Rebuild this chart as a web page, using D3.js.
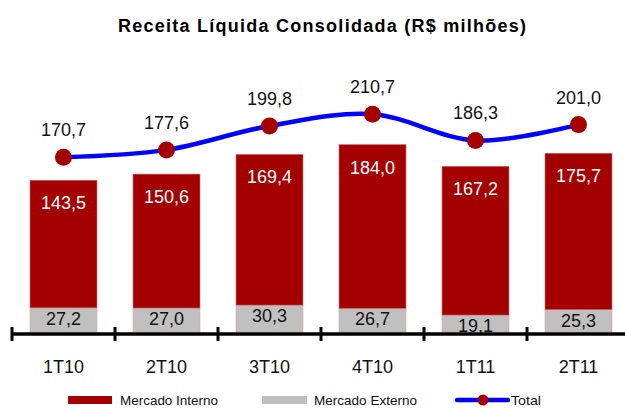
<!DOCTYPE html>
<html>
<head>
<meta charset="utf-8">
<script src="https://cdn.jsdelivr.net/npm/d3@7"></script>
<style>
  body { margin: 0; background: #fff; }
  svg { display: block; font-family: "Liberation Sans", Arial, sans-serif; }
</style>
</head>
<body>
<svg id="chart"></svg>
<script>
let categories = ["1T10", "2T10", "3T10", "4T10", "1T11", "2T11"];
let interno = [143.5, 150.6, 169.4, 184.0, 167.2, 175.7];
let externo = [27.2, 27.0, 30.3, 26.7, 19.1, 25.3];
let total = [170.7, 177.6, 199.8, 210.7, 186.3, 201.0];
let legendLabels = ["Mercado Interno", "Mercado Externo", "Total"];

let width = 625;
let height = 409;
let baseY = 332;

let red = "#a50000";
let grey = "#c0c0c0";
let blue = "#0000ff";

let svg = d3.select("#chart").attr("width", width).attr("height", height);

let values = categories.map((c, i) => ({
  cat: c,
  interno: interno[i],
  externo: externo[i],
  total: total[i],
}));

let xScale = d3
  .scaleBand()
  .domain(categories)
  .range([12, 630])
  .paddingInner(0.35)
  .paddingOuter(0.175);

let yScale = d3.scaleLinear().domain([0, 250]).range([baseY, baseY - 0.889 * 250]);
let lineScale = d3.scaleLinear().domain([0, 250]).range([341.7, 341.7 - 1.08 * 250]);

let cx = (d) => xScale(d.cat) + xScale.bandwidth() / 2;

// title
svg
  .append("text")
  .attr("x", 322)
  .attr("y", 32)
  .attr("text-anchor", "middle")
  .attr("font-size", 18)
  .attr("font-weight", "bold")
  .attr("textLength", 408)
  .attr("lengthAdjust", "spacing")
  .text("Receita Líquida Consolidada (R$ milhões)");

// mercado externo (bottom)
svg
  .selectAll("rect.ext")
  .data(values)
  .enter()
  .append("rect")
  .attr("class", "ext")
  .attr("x", (d) => xScale(d.cat))
  .attr("width", xScale.bandwidth())
  .attr("y", (d) => yScale(d.externo))
  .attr("height", (d) => yScale(0) - yScale(d.externo))
  .attr("fill", grey)
  .attr("stroke", "#e0a0a0")
  .attr("stroke-width", 0.6);

// mercado interno (top)
svg
  .selectAll("rect.int")
  .data(values)
  .enter()
  .append("rect")
  .attr("class", "int")
  .attr("x", (d) => xScale(d.cat))
  .attr("width", xScale.bandwidth())
  .attr("y", (d) => yScale(d.externo + d.interno))
  .attr("height", (d) => yScale(d.externo) - yScale(d.externo + d.interno))
  .attr("fill", red)
  .attr("stroke", "#c86060")
  .attr("stroke-width", 0.6);

let fmt = (v) => v.toFixed(1).replace(".", ",");

svg
  .selectAll("text.extLabel")
  .data(values)
  .enter()
  .append("text")
  .attr("class", "extLabel")
  .attr("x", cx)
  .attr("y", (d) => yScale(d.externo) + 17)
  .attr("text-anchor", "middle")
  .attr("font-size", 18)
  .attr("fill", "#111")
  .text((d) => fmt(d.externo));

svg
  .selectAll("text.intLabel")
  .data(values)
  .enter()
  .append("text")
  .attr("class", "intLabel")
  .attr("x", cx)
  .attr("y", (d) => yScale(d.externo + d.interno) + 29)
  .attr("text-anchor", "middle")
  .attr("font-size", 18)
  .attr("fill", "#fff")
  .text((d) => fmt(d.interno));

// axis
let axisY = 334;
let step = xScale.step();
svg
  .append("line")
  .attr("x1", 12)
  .attr("x2", width)
  .attr("y1", axisY)
  .attr("y2", axisY)
  .attr("stroke", "#000")
  .attr("stroke-width", 3.5);

svg
  .selectAll("line.tick")
  .data(values)
  .enter()
  .append("line")
  .attr("class", "tick")
  .attr("x1", (d) => xScale(d.cat) - (step - xScale.bandwidth()) / 2)
  .attr("x2", (d) => xScale(d.cat) - (step - xScale.bandwidth()) / 2)
  .attr("y1", 327)
  .attr("y2", 341)
  .attr("stroke", "#000")
  .attr("stroke-width", 3);

svg
  .selectAll("text.cat")
  .data(values)
  .enter()
  .append("text")
  .attr("class", "cat")
  .attr("x", cx)
  .attr("y", 373)
  .attr("text-anchor", "middle")
  .attr("font-size", 18)
  .attr("fill", "#111")
  .text((d) => d.cat);

// total line
let line = d3
  .line()
  .x(cx)
  .y((d) => lineScale(d.total))
  .curve(d3.curveCatmullRom.alpha(0.5));

svg
  .append("path")
  .datum(values)
  .attr("d", line)
  .attr("fill", "none")
  .attr("stroke", blue)
  .attr("stroke-width", 4.5);

svg
  .selectAll("circle.dot")
  .data(values)
  .enter()
  .append("circle")
  .attr("class", "dot")
  .attr("cx", cx)
  .attr("cy", (d) => lineScale(d.total))
  .attr("r", 8.5)
  .attr("fill", red);

svg
  .selectAll("text.totLabel")
  .data(values)
  .enter()
  .append("text")
  .attr("class", "totLabel")
  .attr("x", cx)
  .attr("y", (d) => lineScale(d.total) - 21)
  .attr("text-anchor", "middle")
  .attr("font-size", 18)
  .attr("fill", "#111")
  .text((d) => fmt(d.total));

// legend
let legend = svg.append("g");
legend.append("rect").attr("x", 68).attr("y", 396).attr("width", 44).attr("height", 8).attr("fill", red);
legend.append("rect").attr("x", 262).attr("y", 396).attr("width", 45).attr("height", 8).attr("fill", grey);
legend
  .append("line")
  .attr("x1", 457)
  .attr("x2", 508)
  .attr("y1", 400)
  .attr("y2", 400)
  .attr("stroke", blue)
  .attr("stroke-width", 4.5)
  .attr("stroke-linecap", "round");
legend.append("circle").attr("cx", 483).attr("cy", 400).attr("r", 5.5).attr("fill", red);

let legendPos = [
  { x: 120, w: 98 },
  { x: 314, w: 103 },
  { x: 511, w: 30 },
];
legend
  .selectAll("text")
  .data(legendLabels)
  .enter()
  .append("text")
  .attr("x", (d, i) => legendPos[i].x)
  .attr("y", 405)
  .attr("font-size", 13.5)
  .attr("fill", "#111")
  .attr("textLength", (d, i) => legendPos[i].w)
  .attr("lengthAdjust", "spacingAndGlyphs")
  .text((d) => d);
</script>
</body>
</html>
